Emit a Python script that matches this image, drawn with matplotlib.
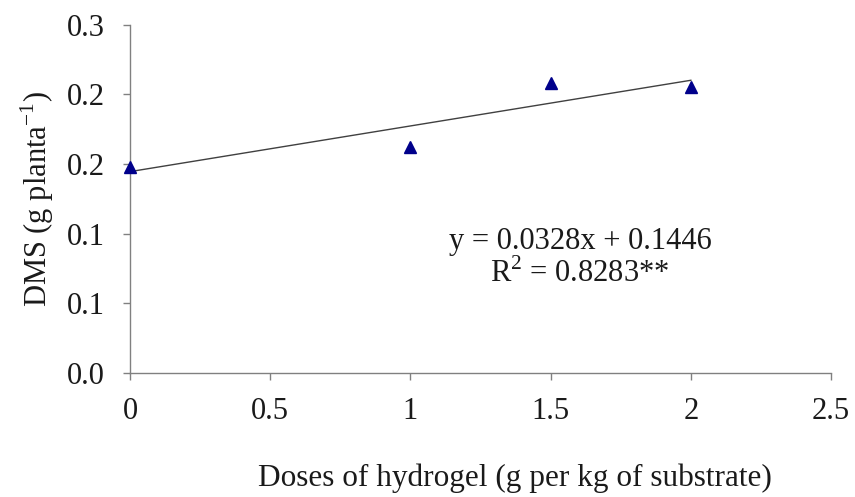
import matplotlib
matplotlib.use("Agg")
import matplotlib.pyplot as plt
import numpy as np

doses = [0, 1, 1.5, 2]
dms = [0.148, 0.162, 0.2083, 0.2055]
slope = 0.0328
intercept = 0.1446
x_ticks = [0, 0.5, 1, 1.5, 2, 2.5]
x_labels = ["0", "0.5", "1", "1.5", "2", "2.5"]
y_ticks = [0, 0.05, 0.10, 0.15, 0.20, 0.25]
y_labels = ["0.0", "0.1", "0.1", "0.2", "0.2", "0.3"]

plt.rcParams['font.family'] = ['Liberation Serif', 'DejaVu Serif']
FS = 22

fig = plt.figure(figsize=(8.55, 4.97), dpi=100)
ax = fig.add_axes([0.152, 0.2495, 0.82, 0.7005])

xl = np.array([min(doses), max(doses)])
ax.plot(xl, slope * xl + intercept, color='#404040', lw=1.0, zorder=2)
ax.plot(doses, dms, linestyle='none', marker='^', color='#00008B', markersize=9, zorder=3, clip_on=False)

ax.set_xlim(0, 2.5)
ax.set_ylim(0, 0.25)
ax.set_xticks(x_ticks)
ax.set_xticklabels(x_labels)
ax.set_yticks(y_ticks)
ax.set_yticklabels(y_labels)

for s in ['top', 'right']:
    ax.spines[s].set_visible(False)
for s in ['left', 'bottom']:
    ax.spines[s].set_color('#808080')
    ax.spines[s].set_linewidth(1.0)

ax.tick_params(axis='both', direction='out', length=5, width=1, color='#808080', labelsize=FS, labelcolor='#1a1a1a')
ax.tick_params(axis='x', pad=12)
ax.tick_params(axis='y', pad=13)

ax.set_xlabel('Doses of hydrogel (g per kg of substrate)', fontsize=22.5, labelpad=27, color='#1a1a1a', x=0.549)
ax.set_ylabel('DMS (g planta$^{\\mathregular{-1}}$)', fontsize=FS, labelpad=8, color='#1a1a1a')

ax.text(1.605, 0.0942, 'y = 0.0328x + 0.1446', fontsize=FS, ha='center', va='center', color='#1a1a1a')
ax.text(1.605, 0.0712, 'R$^{\\mathregular{2}}$ = 0.8283**', fontsize=FS, ha='center', va='center', color='#1a1a1a')

fig.savefig('out.png', dpi=100)
